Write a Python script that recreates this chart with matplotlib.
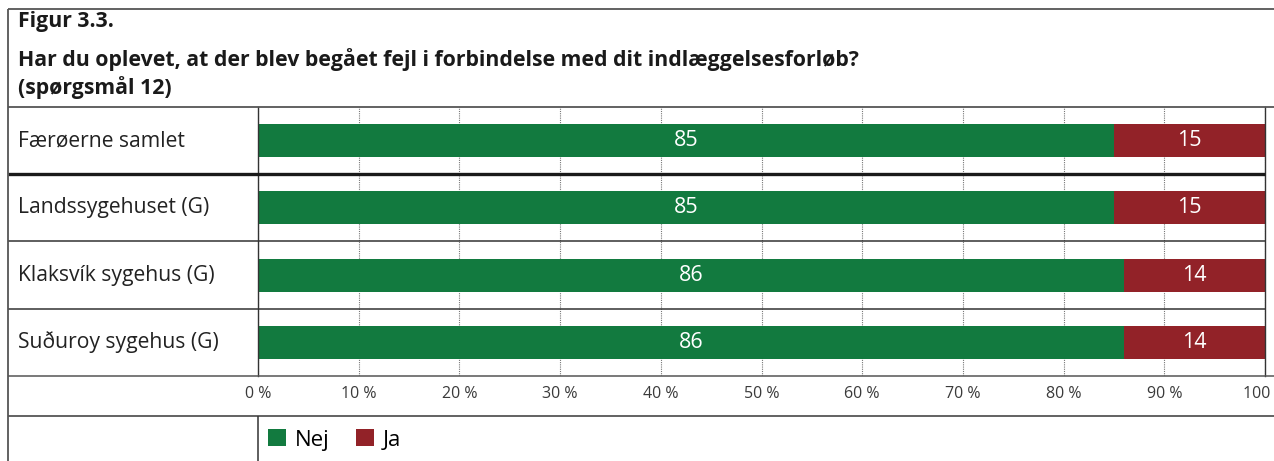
import matplotlib.pyplot as plt
from matplotlib.lines import Line2D
from matplotlib.transforms import blended_transform_factory

plt.rcParams['font.family'] = ['Open Sans', 'DejaVu Sans']

W, H = 1274, 461

# data
categories = ['Færøerne samlet', 'Landssygehuset (G)', 'Klaksvík sygehus (G)', 'Suðuroy sygehus (G)']
nej = [85, 85, 86, 86]
ja = [15, 15, 14, 14]
ticks = list(range(0, 101, 10))
tick_labels = ['%d %%' % t for t in ticks]
title_lines = ['Figur 3.3.',
               'Har du oplevet, at der blev begået fejl i forbindelse med dit indlæggelsesforløb?',
               '(spørgsmål 12)']
series_names = ['Nej', 'Ja']

green = '#127a3f'
red = '#922228'
frame = '#555555'


def fx(x):
    return x / W


def fy(y):
    return 1 - y / H


def hline(y, x0, x1, lw=1.0, color=frame):
    fig.add_artist(Line2D([fx(x0), fx(x1)], [fy(y), fy(y)], transform=fig.transFigure,
                          color=color, lw=lw, solid_capstyle='butt'))


def vline(x, y0, y1, lw=1.0, color=frame):
    fig.add_artist(Line2D([fx(x), fx(x)], [fy(y0), fy(y1)], transform=fig.transFigure,
                          color=color, lw=lw, solid_capstyle='butt'))


fig = plt.figure(figsize=(W / 100, H / 100), dpi=100)
fig.patch.set_facecolor('white')

x0, x1, y0, y1 = 258, 1265, 107, 376
ax = fig.add_axes([fx(x0), fy(y1), fx(x1) - fx(x0), fy(y0) - fy(y1)])

ypos = list(range(len(categories)))
b1 = ax.barh(ypos, nej, height=0.49, color=green, zorder=3)
b2 = ax.barh(ypos, ja, left=nej, height=0.49, color=red, zorder=3)
for i in ypos:
    ax.text(nej[i] / 2, i, str(nej[i]), color='white', ha='center', va='center', fontsize=15.5, zorder=4)
    ax.text(nej[i] + ja[i] / 2, i, str(ja[i]), color='white', ha='center', va='center', fontsize=15.5, zorder=4)

ax.set_xlim(0, 100)
ax.set_ylim(len(categories) - 0.5, -0.5)
ax.set_xticks(ticks)
ax.set_xticklabels(tick_labels, fontsize=11.5, color='#3a3a3a')
ax.set_yticks([])
ax.tick_params(axis='x', length=0, pad=7)
ax.xaxis.grid(True, linestyle=(0, (1, 1)), color='#777777', lw=0.8, zorder=1)
for s in ['top', 'bottom']:
    ax.spines[s].set_visible(False)
for s in ['left', 'right']:
    ax.spines[s].set_color('#333333')
    ax.spines[s].set_linewidth(1.0)
    ax.spines[s].set_zorder(5)

# category labels in the left column (x in figure, y in data)
tr = blended_transform_factory(fig.transFigure, ax.transData)
for i, c in enumerate(categories):
    fig.text(fx(18), i, c, transform=tr, fontsize=15.2, color='#222222', va='center', ha='left')

# row separators, they stop at the 100 % line
for i in range(len(categories) - 1):
    lw = 2.4 if i == 0 else 1.1
    col = '#1a1a1a' if i == 0 else '#333333'
    fig.add_artist(Line2D([fx(8), fx(x1)], [i + 0.5, i + 0.5], transform=tr, color=col, lw=lw,
                          solid_capstyle='butt'))

# frame
hline(9, 8, W, lw=1.3)
hline(y0, 8, W, lw=1.3)
hline(y1, 8, W, lw=1.1)
hline(416, 8, W, lw=1.3)
vline(8, 9, H, lw=1.3)
vline(x0, 416, H, lw=1.1, color='#333333')

# title
title_y = [21, 60, 88]
for t, y in zip(title_lines, title_y):
    fig.text(fx(18), fy(y), t, fontsize=15.3, fontweight='bold', color='#1a1a1a', va='center', ha='left')

fig.legend([b1, b2], series_names, loc='center left', bbox_to_anchor=(fx(268), fy(440)), ncol=2,
           frameon=False, handlelength=0.8, handleheight=0.8, handletextpad=0.4,
           columnspacing=1.2, fontsize=16, borderpad=0, borderaxespad=0)

fig.savefig('out.png', dpi=100)
